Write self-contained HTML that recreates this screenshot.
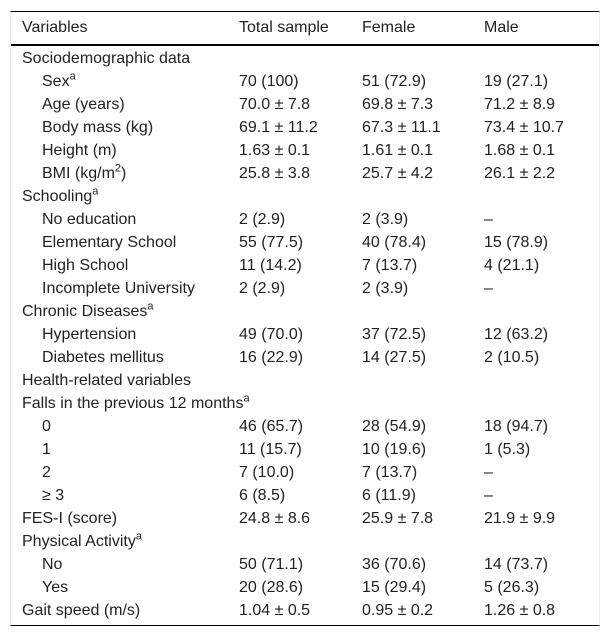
<!DOCTYPE html>
<html><head><meta charset="utf-8"><style>
body{margin:0;background:#fff;font-family:"Liberation Sans",sans-serif;font-size:16px;color:#222}
#t{position:absolute;left:10px;top:11px;width:588px;border-top:1.5px solid #000;border-bottom:1.5px solid #000;border-left:1px solid #eee;border-right:1px solid #eee}
.r{position:relative;height:23px;line-height:23px}
.h{height:32px;line-height:32px;border-bottom:2px solid #000;margin-bottom:1px}
.r span{position:absolute;white-space:nowrap}
.c0{left:11px}.i{left:31px}.c1{left:228px}.c2{left:351px}.c3{left:473px}
sup{font-size:11px;line-height:0}
</style></head><body>
<div id="t">
<div class="r h"><span class="c0">Variables</span><span class="c1">Total sample</span><span class="c2">Female</span><span class="c3">Male</span></div>
<div class="r"><span class="c0">Sociodemographic data</span></div>
<div class="r"><span class="i">Sex<sup>a</sup></span><span class="c1">70 (100)</span><span class="c2">51 (72.9)</span><span class="c3">19 (27.1)</span></div>
<div class="r"><span class="i">Age (years)</span><span class="c1">70.0 ± 7.8</span><span class="c2">69.8 ± 7.3</span><span class="c3">71.2 ± 8.9</span></div>
<div class="r"><span class="i">Body mass (kg)</span><span class="c1">69.1 ± 11.2</span><span class="c2">67.3 ± 11.1</span><span class="c3">73.4 ± 10.7</span></div>
<div class="r"><span class="i">Height (m)</span><span class="c1">1.63 ± 0.1</span><span class="c2">1.61 ± 0.1</span><span class="c3">1.68 ± 0.1</span></div>
<div class="r"><span class="i">BMI (kg/m<sup>2</sup>)</span><span class="c1">25.8 ± 3.8</span><span class="c2">25.7 ± 4.2</span><span class="c3">26.1 ± 2.2</span></div>
<div class="r"><span class="c0">Schooling<sup>a</sup></span></div>
<div class="r"><span class="i">No education</span><span class="c1">2 (2.9)</span><span class="c2">2 (3.9)</span><span class="c3">–</span></div>
<div class="r"><span class="i">Elementary School</span><span class="c1">55 (77.5)</span><span class="c2">40 (78.4)</span><span class="c3">15 (78.9)</span></div>
<div class="r"><span class="i">High School</span><span class="c1">11 (14.2)</span><span class="c2">7 (13.7)</span><span class="c3">4 (21.1)</span></div>
<div class="r"><span class="i">Incomplete University</span><span class="c1">2 (2.9)</span><span class="c2">2 (3.9)</span><span class="c3">–</span></div>
<div class="r"><span class="c0">Chronic Diseases<sup>a</sup></span></div>
<div class="r"><span class="i">Hypertension</span><span class="c1">49 (70.0)</span><span class="c2">37 (72.5)</span><span class="c3">12 (63.2)</span></div>
<div class="r"><span class="i">Diabetes mellitus</span><span class="c1">16 (22.9)</span><span class="c2">14 (27.5)</span><span class="c3">2 (10.5)</span></div>
<div class="r"><span class="c0">Health-related variables</span></div>
<div class="r"><span class="c0">Falls in the previous 12 months<sup>a</sup></span></div>
<div class="r"><span class="i">0</span><span class="c1">46 (65.7)</span><span class="c2">28 (54.9)</span><span class="c3">18 (94.7)</span></div>
<div class="r"><span class="i">1</span><span class="c1">11 (15.7)</span><span class="c2">10 (19.6)</span><span class="c3">1 (5.3)</span></div>
<div class="r"><span class="i">2</span><span class="c1">7 (10.0)</span><span class="c2">7 (13.7)</span><span class="c3">–</span></div>
<div class="r"><span class="i">≥ 3</span><span class="c1">6 (8.5)</span><span class="c2">6 (11.9)</span><span class="c3">–</span></div>
<div class="r"><span class="c0">FES-I (score)</span><span class="c1">24.8 ± 8.6</span><span class="c2">25.9 ± 7.8</span><span class="c3">21.9 ± 9.9</span></div>
<div class="r"><span class="c0">Physical Activity<sup>a</sup></span></div>
<div class="r"><span class="i">No</span><span class="c1">50 (71.1)</span><span class="c2">36 (70.6)</span><span class="c3">14 (73.7)</span></div>
<div class="r"><span class="i">Yes</span><span class="c1">20 (28.6)</span><span class="c2">15 (29.4)</span><span class="c3">5 (26.3)</span></div>
<div class="r" style="margin-bottom:3px"><span class="c0">Gait speed (m/s)</span><span class="c1">1.04 ± 0.5</span><span class="c2">0.95 ± 0.2</span><span class="c3">1.26 ± 0.8</span></div>
</div>
</body></html>
